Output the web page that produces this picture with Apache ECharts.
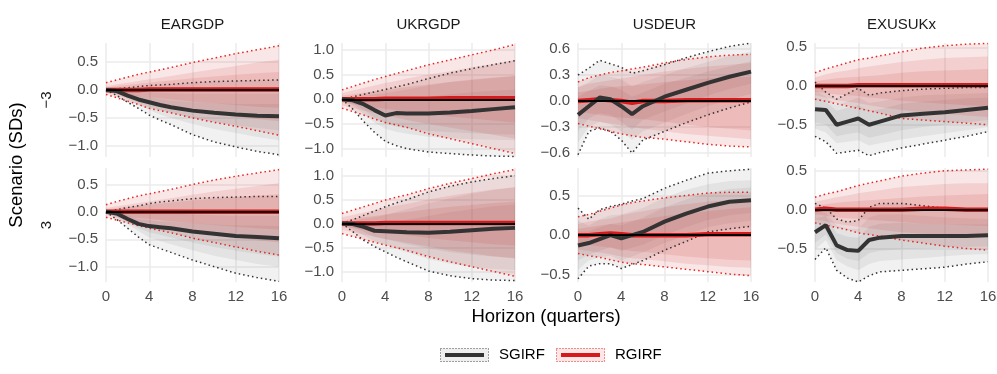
<!DOCTYPE html>
<html>
<head>
<meta charset="utf-8">
<script src="https://cdn.jsdelivr.net/npm/echarts@6/dist/echarts.min.js"></script>
<style>
  html, body { margin: 0; padding: 0; background: #fff; }
  #chart { width: 997px; height: 374px; }
</style>
</head>
<body>
<div id="chart"></div>
<script>
const horizons = [0, 1, 2, 3, 4, 5, 6, 8, 10, 12, 14, 16]
const variables = ['EARGDP', 'UKRGDP', 'USDEUR', 'EXUSUKx']
const scenarios = ['\u22123', '3']
const xTicks = [0, 4, 8, 12, 16]

// each series: [median, innerLo, innerHi, midLo, midHi, outerLo, outerHi]
const EARGDP_m3_SG = [
  [0, -0.02, -0.1, -0.17, -0.22, -0.27, -0.31, -0.37, -0.41, -0.44, -0.46, -0.47],
  [0, -0.05, -0.14, -0.23, -0.3, -0.36, -0.41, -0.5, -0.57, -0.63, -0.68, -0.72],
  [0, 0, -0.05, -0.1, -0.13, -0.16, -0.19, -0.22, -0.24, -0.25, -0.25, -0.25],
  [0, -0.07, -0.17, -0.27, -0.36, -0.44, -0.5, -0.61, -0.7, -0.77, -0.84, -0.9],
  [0, 0.01, 0, -0.02, -0.04, -0.05, -0.06, -0.07, -0.07, -0.07, -0.07, -0.07],
  [0, -0.1, -0.22, -0.33, -0.45, -0.54, -0.62, -0.8, -0.93, -1.02, -1.1, -1.16],
  [0, 0.02, 0.04, 0.06, 0.08, 0.09, 0.1, 0.13, 0.15, 0.16, 0.17, 0.18]
]
const EARGDP_m3_RG = [
  [0, 0, 0, 0, 0.01, 0.01, 0.01, 0.01, 0.01, 0.01, 0.01, 0.01],
  [-0.04, -0.07, -0.09, -0.11, -0.13, -0.15, -0.17, -0.21, -0.24, -0.27, -0.3, -0.32],
  [0.04, 0.07, 0.09, 0.11, 0.13, 0.15, 0.17, 0.21, 0.24, 0.27, 0.3, 0.32],
  [-0.06, -0.1, -0.14, -0.18, -0.22, -0.25, -0.28, -0.35, -0.41, -0.47, -0.52, -0.56],
  [0.07, 0.1, 0.13, 0.16, 0.19, 0.22, 0.25, 0.31, 0.37, 0.43, 0.49, 0.54],
  [-0.08, -0.14, -0.2, -0.26, -0.33, -0.37, -0.41, -0.5, -0.58, -0.65, -0.73, -0.81],
  [0.13, 0.18, 0.23, 0.28, 0.32, 0.36, 0.4, 0.49, 0.57, 0.65, 0.72, 0.79]
]
const UKRGDP_m3_SG = [
  [0, -0.02, -0.1, -0.22, -0.33, -0.28, -0.29, -0.29, -0.27, -0.24, -0.2, -0.16],
  [0, -0.08, -0.22, -0.37, -0.5, -0.55, -0.59, -0.64, -0.67, -0.69, -0.71, -0.72],
  [0, 0.02, 0.03, 0, -0.05, -0.02, 0, 0.05, 0.1, 0.14, 0.17, 0.2],
  [0, -0.12, -0.3, -0.47, -0.6, -0.66, -0.7, -0.76, -0.79, -0.81, -0.82, -0.83],
  [0, 0.03, 0.07, 0.1, 0.12, 0.16, 0.2, 0.28, 0.35, 0.4, 0.44, 0.47],
  [0, -0.2, -0.45, -0.67, -0.85, -0.94, -1.0, -1.07, -1.1, -1.13, -1.15, -1.16],
  [0, 0.05, 0.1, 0.15, 0.2, 0.25, 0.3, 0.42, 0.53, 0.62, 0.7, 0.78]
]
const UKRGDP_m3_RG = [
  [0, 0, 0, 0, 0.01, 0.01, 0.01, 0.01, 0.02, 0.02, 0.02, 0.02],
  [-0.07, -0.1, -0.13, -0.16, -0.19, -0.22, -0.25, -0.3, -0.35, -0.39, -0.43, -0.47],
  [0.07, 0.1, 0.13, 0.16, 0.19, 0.22, 0.25, 0.3, 0.35, 0.39, 0.43, 0.47],
  [-0.12, -0.18, -0.23, -0.28, -0.33, -0.37, -0.42, -0.5, -0.57, -0.65, -0.72, -0.8],
  [0.12, 0.18, 0.23, 0.28, 0.33, 0.37, 0.42, 0.5, 0.57, 0.65, 0.72, 0.8],
  [-0.18, -0.25, -0.32, -0.4, -0.47, -0.52, -0.57, -0.7, -0.8, -0.9, -1.0, -1.1],
  [0.19, 0.26, 0.33, 0.4, 0.46, 0.52, 0.58, 0.7, 0.8, 0.9, 1.0, 1.11]
]
const USDEUR_m3_SG = [
  [-0.16, -0.06, 0.04, 0.02, -0.06, -0.15, -0.06, 0.05, 0.13, 0.21, 0.28, 0.34],
  [-0.35, -0.2, -0.14, -0.16, -0.24, -0.33, -0.22, -0.12, -0.03, 0.06, 0.14, 0.2],
  [0.05, 0.12, 0.18, 0.17, 0.13, 0.05, 0.1, 0.2, 0.27, 0.34, 0.4, 0.46],
  [-0.48, -0.3, -0.24, -0.27, -0.35, -0.45, -0.35, -0.25, -0.15, -0.06, 0.02, 0.08],
  [0.16, 0.22, 0.3, 0.28, 0.25, 0.17, 0.22, 0.3, 0.38, 0.45, 0.52, 0.57],
  [-0.62, -0.35, -0.31, -0.35, -0.45, -0.6, -0.45, -0.35, -0.25, -0.16, -0.08, -0.01],
  [0.3, 0.38, 0.47, 0.43, 0.39, 0.32, 0.35, 0.42, 0.5, 0.57, 0.63, 0.67]
]
const USDEUR_m3_RG = [
  [0, 0.01, 0.02, 0.01, 0, -0.02, 0, 0, 0.01, 0.01, 0.01, 0.01],
  [-0.12, -0.14, -0.16, -0.18, -0.19, -0.2, -0.21, -0.24, -0.27, -0.3, -0.32, -0.34],
  [0.1, 0.12, 0.14, 0.16, 0.17, 0.18, 0.19, 0.22, 0.24, 0.26, 0.27, 0.28],
  [-0.2, -0.22, -0.24, -0.26, -0.28, -0.3, -0.32, -0.35, -0.38, -0.4, -0.42, -0.44],
  [0.16, 0.2, 0.22, 0.24, 0.26, 0.28, 0.3, 0.34, 0.37, 0.4, 0.42, 0.44],
  [-0.26, -0.29, -0.32, -0.35, -0.38, -0.4, -0.42, -0.44, -0.47, -0.5, -0.52, -0.53],
  [0.22, 0.27, 0.3, 0.33, 0.35, 0.37, 0.39, 0.44, 0.48, 0.51, 0.53, 0.54]
]
const EXUSUKx_m3_SG = [
  [-0.3, -0.31, -0.5, -0.46, -0.42, -0.5, -0.46, -0.38, -0.36, -0.34, -0.31, -0.28],
  [-0.47, -0.5, -0.65, -0.62, -0.6, -0.67, -0.64, -0.57, -0.53, -0.5, -0.47, -0.44],
  [-0.15, -0.2, -0.32, -0.28, -0.25, -0.32, -0.3, -0.23, -0.2, -0.18, -0.16, -0.15],
  [-0.55, -0.6, -0.74, -0.72, -0.7, -0.77, -0.74, -0.69, -0.65, -0.61, -0.57, -0.53],
  [-0.05, -0.14, -0.25, -0.2, -0.15, -0.22, -0.2, -0.15, -0.12, -0.11, -0.1, -0.09],
  [-0.65, -0.72, -0.87, -0.85, -0.83, -0.9, -0.86, -0.8, -0.75, -0.7, -0.65, -0.59],
  [0.05, -0.08, -0.17, -0.1, -0.03, -0.12, -0.09, -0.06, -0.04, -0.03, -0.02, -0.02]
]
const EXUSUKx_m3_RG = [
  [0, 0, 0, 0, 0.01, 0.01, 0.01, 0.01, 0.01, 0.01, 0.01, 0.01],
  [-0.07, -0.09, -0.11, -0.12, -0.13, -0.15, -0.16, -0.19, -0.21, -0.23, -0.25, -0.26],
  [0.06, 0.08, 0.1, 0.11, 0.12, 0.13, 0.14, 0.17, 0.19, 0.2, 0.21, 0.22],
  [-0.12, -0.15, -0.18, -0.2, -0.22, -0.25, -0.27, -0.31, -0.34, -0.36, -0.38, -0.4],
  [0.11, 0.15, 0.18, 0.2, 0.23, 0.25, 0.27, 0.31, 0.34, 0.36, 0.37, 0.38],
  [-0.17, -0.2, -0.23, -0.26, -0.29, -0.32, -0.35, -0.42, -0.44, -0.46, -0.48, -0.5],
  [0.17, 0.22, 0.26, 0.3, 0.34, 0.36, 0.39, 0.44, 0.49, 0.52, 0.54, 0.55]
]
const EARGDP_p3_SG = [
  [0, -0.03, -0.13, -0.22, -0.26, -0.28, -0.3, -0.36, -0.4, -0.44, -0.46, -0.48],
  [0, -0.07, -0.18, -0.3, -0.37, -0.42, -0.47, -0.56, -0.64, -0.71, -0.77, -0.82],
  [0, 0, -0.06, -0.13, -0.15, -0.17, -0.18, -0.21, -0.23, -0.25, -0.25, -0.26],
  [0, -0.1, -0.22, -0.35, -0.47, -0.53, -0.59, -0.7, -0.8, -0.88, -0.95, -1.0],
  [0, 0.02, 0.02, 0, -0.01, -0.02, -0.03, -0.05, -0.06, -0.07, -0.07, -0.07],
  [0, -0.14, -0.3, -0.46, -0.6, -0.67, -0.74, -0.88, -1.0, -1.12, -1.2, -1.27],
  [0, 0.04, 0.08, 0.11, 0.15, 0.18, 0.2, 0.24, 0.26, 0.27, 0.28, 0.28]
]
const EARGDP_p3_RG = [
  [0, 0, 0, 0, 0, 0, 0, 0, 0, 0, 0, 0],
  [-0.04, -0.07, -0.09, -0.11, -0.13, -0.15, -0.17, -0.21, -0.24, -0.27, -0.3, -0.32],
  [0.04, 0.07, 0.09, 0.11, 0.13, 0.15, 0.17, 0.21, 0.24, 0.27, 0.3, 0.32],
  [-0.06, -0.1, -0.14, -0.18, -0.22, -0.25, -0.28, -0.35, -0.41, -0.47, -0.52, -0.56],
  [0.07, 0.1, 0.13, 0.16, 0.19, 0.22, 0.25, 0.31, 0.37, 0.42, 0.47, 0.52],
  [-0.1, -0.15, -0.2, -0.25, -0.3, -0.34, -0.38, -0.48, -0.56, -0.64, -0.72, -0.79],
  [0.13, 0.19, 0.24, 0.29, 0.33, 0.37, 0.41, 0.5, 0.58, 0.65, 0.71, 0.77]
]
const UKRGDP_p3_SG = [
  [0, -0.01, -0.07, -0.15, -0.16, -0.17, -0.18, -0.19, -0.17, -0.14, -0.11, -0.09],
  [0, -0.07, -0.17, -0.28, -0.33, -0.38, -0.43, -0.52, -0.6, -0.65, -0.69, -0.72],
  [0, 0.02, 0.02, 0, 0.02, 0.05, 0.08, 0.16, 0.24, 0.3, 0.36, 0.4],
  [0, -0.12, -0.25, -0.37, -0.45, -0.53, -0.6, -0.74, -0.84, -0.91, -0.95, -0.97],
  [0, 0.05, 0.1, 0.13, 0.18, 0.24, 0.3, 0.42, 0.53, 0.62, 0.7, 0.76],
  [0, -0.17, -0.35, -0.48, -0.59, -0.7, -0.8, -0.99, -1.09, -1.15, -1.18, -1.19],
  [0, 0.08, 0.17, 0.26, 0.35, 0.43, 0.5, 0.66, 0.78, 0.87, 0.94, 1.0]
]
const UKRGDP_p3_RG = [
  [0, 0, 0, 0, 0.01, 0.01, 0.01, 0.01, 0.01, 0.01, 0.01, 0.01],
  [-0.07, -0.1, -0.13, -0.16, -0.19, -0.22, -0.24, -0.3, -0.35, -0.39, -0.43, -0.46],
  [0.07, 0.1, 0.13, 0.16, 0.19, 0.22, 0.24, 0.3, 0.35, 0.39, 0.43, 0.46],
  [-0.13, -0.18, -0.23, -0.27, -0.32, -0.36, -0.4, -0.48, -0.56, -0.62, -0.68, -0.73],
  [0.13, 0.18, 0.23, 0.28, 0.33, 0.37, 0.41, 0.5, 0.58, 0.65, 0.71, 0.76],
  [-0.21, -0.27, -0.33, -0.39, -0.45, -0.5, -0.56, -0.69, -0.8, -0.9, -1.0, -1.1],
  [0.21, 0.28, 0.35, 0.42, 0.49, 0.55, 0.6, 0.73, 0.84, 0.94, 1.04, 1.13]
]
const USDEUR_p3_SG = [
  [-0.13, -0.1, -0.05, 0, -0.04, 0, 0.04, 0.17, 0.27, 0.36, 0.42, 0.44],
  [-0.32, -0.25, -0.2, -0.15, -0.2, -0.16, -0.12, 0, 0.1, 0.19, 0.25, 0.28],
  [0.05, 0.05, 0.1, 0.14, 0.12, 0.17, 0.22, 0.35, 0.45, 0.53, 0.58, 0.6],
  [-0.44, -0.32, -0.28, -0.26, -0.32, -0.27, -0.22, -0.1, 0, 0.1, 0.15, 0.18],
  [0.18, 0.12, 0.2, 0.25, 0.26, 0.3, 0.34, 0.47, 0.57, 0.64, 0.68, 0.69],
  [-0.55, -0.39, -0.36, -0.36, -0.42, -0.37, -0.32, -0.19, -0.08, 0.04, 0.08, 0.11],
  [0.34, 0.2, 0.32, 0.36, 0.39, 0.43, 0.46, 0.59, 0.69, 0.78, 0.81, 0.83]
]
const USDEUR_p3_RG = [
  [0, 0, 0.01, 0.02, 0.01, 0, 0, 0, 0, 0.01, 0.01, 0.01],
  [-0.1, -0.12, -0.14, -0.16, -0.18, -0.2, -0.21, -0.24, -0.27, -0.29, -0.31, -0.32],
  [0.08, 0.1, 0.12, 0.14, 0.16, 0.18, 0.2, 0.24, 0.27, 0.3, 0.33, 0.35],
  [-0.18, -0.2, -0.22, -0.24, -0.27, -0.29, -0.3, -0.33, -0.36, -0.38, -0.4, -0.41],
  [0.14, 0.17, 0.19, 0.21, 0.25, 0.28, 0.3, 0.35, 0.39, 0.42, 0.44, 0.45],
  [-0.23, -0.26, -0.28, -0.31, -0.34, -0.36, -0.37, -0.4, -0.43, -0.46, -0.49, -0.51],
  [0.23, 0.26, 0.3, 0.34, 0.38, 0.41, 0.43, 0.47, 0.5, 0.53, 0.54, 0.54]
]
const EXUSUKx_p3_SG = [
  [-0.29, -0.2, -0.46, -0.52, -0.53, -0.39, -0.36, -0.34, -0.34, -0.34, -0.34, -0.33],
  [-0.43, -0.32, -0.56, -0.63, -0.66, -0.56, -0.53, -0.51, -0.5, -0.49, -0.48, -0.47],
  [-0.12, -0.08, -0.3, -0.35, -0.36, -0.22, -0.18, -0.17, -0.18, -0.19, -0.19, -0.19],
  [-0.52, -0.39, -0.65, -0.73, -0.78, -0.7, -0.66, -0.64, -0.62, -0.6, -0.58, -0.57],
  [-0.02, -0.04, -0.2, -0.25, -0.25, -0.1, -0.06, -0.06, -0.08, -0.1, -0.11, -0.12],
  [-0.64, -0.49, -0.78, -0.88, -0.93, -0.85, -0.8, -0.78, -0.76, -0.74, -0.7, -0.67],
  [0.08, 0.02, -0.12, -0.16, -0.14, 0.03, 0.08, 0.08, 0.05, 0.02, 0, -0.02]
]
const EXUSUKx_p3_RG = [
  [0, 0.01, 0, 0, 0, 0, 0, 0, 0.01, 0.01, 0, 0],
  [-0.06, -0.08, -0.1, -0.11, -0.12, -0.13, -0.14, -0.16, -0.18, -0.19, -0.2, -0.21],
  [0.05, 0.07, 0.09, 0.1, 0.11, 0.12, 0.13, 0.15, 0.17, 0.18, 0.19, 0.2],
  [-0.12, -0.15, -0.18, -0.2, -0.22, -0.24, -0.26, -0.29, -0.31, -0.32, -0.33, -0.33],
  [0.1, 0.13, 0.16, 0.18, 0.21, 0.23, 0.25, 0.29, 0.31, 0.33, 0.34, 0.34],
  [-0.17, -0.2, -0.23, -0.26, -0.3, -0.32, -0.34, -0.39, -0.43, -0.47, -0.5, -0.52],
  [0.16, 0.2, 0.23, 0.27, 0.31, 0.34, 0.37, 0.43, 0.47, 0.5, 0.51, 0.52]
]

// y tick labels per panel
const ticksGDP_EA = [-1, -0.5, 0, 0.5]
const ticksGDP_UK = [-1, -0.5, 0, 0.5, 1]
const ticksUSDEUR_m3 = [-0.6, -0.3, 0, 0.3, 0.6]
const ticksUSDEUR_p3 = [-0.5, 0, 0.5]
const ticksEXUSUKx = [-0.5, 0, 0.5]

const panels = [
  { sg: EARGDP_m3_SG, rg: EARGDP_m3_RG, ticks: ticksGDP_EA, lim: [-1.2, 0.84] },
  { sg: UKRGDP_m3_SG, rg: UKRGDP_m3_RG, ticks: ticksGDP_UK, lim: [-1.17, 1.14] },
  { sg: USDEUR_m3_SG, rg: USDEUR_m3_RG, ticks: ticksUSDEUR_m3, lim: [-0.646, 0.67] },
  { sg: EXUSUKx_m3_SG, rg: EXUSUKx_m3_RG, ticks: ticksEXUSUKx, lim: [-0.917, 0.555] },
  { sg: EARGDP_p3_SG, rg: EARGDP_p3_RG, ticks: ticksGDP_EA, lim: [-1.28, 0.8] },
  { sg: UKRGDP_p3_SG, rg: UKRGDP_p3_RG, ticks: ticksGDP_UK, lim: [-1.22, 1.16] },
  { sg: USDEUR_p3_SG, rg: USDEUR_p3_RG, ticks: ticksUSDEUR_p3, lim: [-0.59, 0.845] },
  { sg: EXUSUKx_p3_SG, rg: EXUSUKx_p3_RG, ticks: ticksEXUSUKx, lim: [-0.93, 0.535] }
]

const FONT = '"Liberation Sans", Arial, Helvetica, sans-serif'
const GREY = '#333333'
const RED = '#d7191c'
const RED_DOT = '#e8231f'
const GREY_BAND = 'rgba(40,40,40,0.065)'
const RED_BAND = 'rgba(200,25,25,0.11)'
const DOTS = [1.5, 3]
const colLeft = [106, 342, 578, 815]
const rowTop = [43, 168]
const PW = 173, PH = 114

const minus = v => (v < 0 ? '\u2212' : '') + Math.abs(v).toFixed(1)

// ribbon between lo and hi drawn as one polygon
function band (idx, lo, hi, color) {
  return {
    type: 'custom', xAxisIndex: idx, yAxisIndex: idx, silent: true, z: 1,
    data: horizons.map((h, k) => [h, lo[k], hi[k]]),
    encode: { x: 0, y: [1, 2] },
    renderItem: (params, api) => {
      if (params.dataIndex !== 0) return null
      const top = horizons.map((h, k) => api.coord([h, hi[k]]))
      const bot = horizons.map((h, k) => api.coord([h, lo[k]])).reverse()
      return { type: 'polygon', shape: { points: top.concat(bot) }, style: { fill: color } }
    }
  }
}

function line (idx, ys, color, width, type, z) {
  return {
    type: 'line', xAxisIndex: idx, yAxisIndex: idx, silent: true, z,
    data: horizons.map((h, k) => [h, ys[k]]),
    symbol: 'none',
    lineStyle: { color, width, type }
  }
}

const grids = [], xAxes = [], yAxes = [], series = []
panels.forEach((p, i) => {
  const row = Math.floor(i / 4), col = i % 4
  grids.push({ left: colLeft[col], top: rowTop[row], width: PW, height: PH, containLabel: false, outerBoundsMode: 'none' })
  xAxes.push({
    gridIndex: i, type: 'value', min: 0, max: 16, interval: 4,
    axisLine: { show: false }, axisTick: { show: false },
    axisLabel: { show: row === 1, margin: 7, color: '#4d4d4d', fontSize: 15, fontFamily: FONT },
    splitLine: { lineStyle: { color: '#ebebeb', width: 1.5 } }
  })
  yAxes.push({
    gridIndex: i, type: 'value', min: p.lim[0], max: p.lim[1],
    axisLine: { show: false }, axisTick: { show: false, customValues: p.ticks },
    axisLabel: { customValues: p.ticks, margin: 8, color: '#4d4d4d', fontSize: 15, fontFamily: FONT, formatter: minus },
    splitLine: { lineStyle: { color: '#ebebeb', width: 1.5 } }
  })
  // ribbons: outer, middle, inner for each response type
  for (const s of [[p.sg, GREY_BAND], [p.rg, RED_BAND]]) {
    const d = s[0]
    series.push(band(i, d[5], d[6], s[1]))
    series.push(band(i, d[3], d[4], s[1]))
    series.push(band(i, d[1], d[2], s[1]))
  }
  series.push(line(i, p.sg[5], GREY, 1.5, DOTS, 2))
  series.push(line(i, p.sg[6], GREY, 1.5, DOTS, 2))
  series.push(line(i, p.rg[5], RED_DOT, 1.5, DOTS, 2))
  series.push(line(i, p.rg[6], RED_DOT, 1.5, DOTS, 2))
  const rgMed = line(i, p.rg[0], RED, 4.5, 'solid', 3)
  // zero reference line drawn with the red median
  rgMed.markLine = {
    silent: true, symbol: 'none', label: { show: false },
    lineStyle: { color: '#000', width: 2, type: 'solid' },
    data: [{ yAxis: 0 }]
  }
  series.push(rgMed)
  series.push(line(i, p.sg[0], GREY, 4, 'solid', 4))
})

const graphics = []
variables.forEach((v, c) => {
  graphics.push({ type: 'text', x: colLeft[c] + PW / 2, y: 25, style: { text: v, fontSize: 15, fontFamily: FONT, fill: '#1a1a1a', align: 'center', verticalAlign: 'middle' } })
})
scenarios.forEach((s, r) => {
  graphics.push({ type: 'text', x: 47, y: rowTop[r] + PH / 2, rotation: Math.PI / 2, style: { text: s, fontSize: 15, fontFamily: FONT, fill: '#1a1a1a', align: 'center', verticalAlign: 'middle' } })
})
graphics.push({ type: 'text', x: 17, y: 165, rotation: Math.PI / 2, style: { text: 'Scenario (SDs)', fontSize: 18.5, fontFamily: FONT, fill: '#000', align: 'center', verticalAlign: 'middle' } })
graphics.push({ type: 'text', x: 546, y: 317, style: { text: 'Horizon (quarters)', fontSize: 18.5, fontFamily: FONT, fill: '#000', align: 'center', verticalAlign: 'middle' } })
// legend keys
graphics.push({ type: 'rect', shape: { x: 440.5, y: 348.5, width: 48, height: 13 }, style: { fill: '#efefef', stroke: '#444', lineWidth: 1, lineDash: [1, 2] } })
graphics.push({ type: 'line', shape: { x1: 445, y1: 355, x2: 484, y2: 355 }, style: { stroke: GREY, lineWidth: 4 } })
graphics.push({ type: 'text', x: 499, y: 355, style: { text: 'SGIRF', fontSize: 15, fontFamily: FONT, fill: '#000', align: 'left', verticalAlign: 'middle' } })
graphics.push({ type: 'rect', shape: { x: 556.5, y: 348.5, width: 48, height: 13 }, style: { fill: '#fbe7e7', stroke: RED_DOT, lineWidth: 1, lineDash: [1, 2] } })
graphics.push({ type: 'line', shape: { x1: 561, y1: 355, x2: 600, y2: 355 }, style: { stroke: RED, lineWidth: 4 } })
graphics.push({ type: 'text', x: 615, y: 355, style: { text: 'RGIRF', fontSize: 15, fontFamily: FONT, fill: '#000', align: 'left', verticalAlign: 'middle' } })

const chart = echarts.init(document.getElementById('chart'))
chart.setOption({
  backgroundColor: '#fff',
  animation: false,
  grid: grids,
  xAxis: xAxes,
  yAxis: yAxes,
  series,
  graphic: graphics
})
</script>
</body>
</html>
